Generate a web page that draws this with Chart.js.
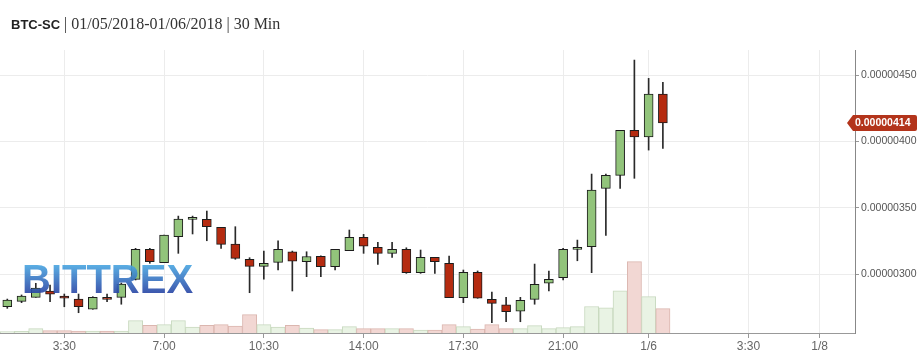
<!DOCTYPE html>
<html>
<head>
<meta charset="utf-8">
<script src="https://cdn.jsdelivr.net/npm/chart.js@4"></script>
<style>
  html, body { margin: 0; padding: 0; background: #fff; }
  #wrap { position: relative; width: 920px; height: 352px; }
  #title {
    position: absolute; left: 11px; top: 15px;
    font: 16px "Liberation Serif", "DejaVu Serif", serif; color: #333; white-space: nowrap;
  }
  #title b { font: bold 13px "Liberation Sans", Arial, sans-serif; color: #222; }
</style>
</head>
<body>
<div id="wrap">
  <canvas id="chart" width="920" height="352"></canvas>
  <div id="title"><b>BTC-SC</b> | 01/05/2018-01/06/2018 | 30 Min</div>
</div>
<script>
// ── Data (prices in units of 1e-8 BTC, time in hours from 01/05 00:00) ──
const times = [1.5, 2, 2.5, 3, 3.5, 4, 4.5, 5, 5.5, 6, 6.5, 7, 7.5, 8, 8.5, 9, 9.5, 10,
  10.5, 11, 11.5, 12, 12.5, 13, 13.5, 14, 14.5, 15, 15.5, 16, 16.5, 17, 17.5, 18, 18.5,
  19, 19.5, 20, 20.5, 21, 21.5, 22, 22.5, 23, 23.5, 24, 24.5];
const opens  = [275.3, 279.4, 282.4, 287.2, 283.4, 281.1, 273.4, 282.4, 282.4, 296.0, 318.6, 308.5,
  328.1, 341.2, 341.2, 335.2, 322.6, 311.1, 305.8, 308.8, 316.8, 309.4, 313.3, 305.5, 317.6, 327.7,
  320.1, 315.6, 318.6, 301.0, 312.6, 308.1, 282.1, 301.3, 280.9, 276.8, 271.9, 280.9, 293.0, 297.2,
  318.6, 320.6, 364.6, 374.4, 408.4, 403.5, 435.7];
const highs  = [281.1, 284.2, 293.0, 291.7, 284.9, 284.9, 282.9, 284.9, 293.2, 319.4, 319.4, 329.4,
  343.7, 343.7, 347.5, 335.2, 335.7, 312.3, 317.3, 325.1, 317.3, 316.8, 313.8, 318.6, 333.2, 329.9,
  323.9, 323.9, 319.8, 318.1, 312.6, 313.6, 303.0, 302.3, 286.4, 282.4, 282.4, 307.5, 302.3, 319.4,
  325.6, 375.4, 375.4, 408.4, 461.4, 447.6, 444.6];
const lows   = [274.1, 278.4, 282.4, 279.1, 275.3, 270.8, 273.4, 279.1, 277.2, 295.5, 308.1, 308.5,
  315.6, 330.2, 325.1, 319.4, 311.1, 285.9, 296.2, 303.0, 287.2, 298.0, 298.0, 303.0, 317.6, 315.6,
  307.3, 312.6, 300.5, 300.5, 300.5, 282.1, 278.4, 281.7, 263.3, 264.0, 264.0, 277.2, 287.2, 295.5,
  310.0, 301.0, 329.2, 364.6, 372.2, 393.5, 394.8];
const closes = [280.4, 283.4, 289.4, 284.7, 281.7, 275.3, 282.4, 280.9, 292.5, 318.6, 309.3, 329.4,
  341.5, 341.4, 335.7, 322.4, 311.8, 305.8, 308.1, 318.6, 309.6, 313.2, 305.5, 318.6, 327.7, 321.1,
  315.6, 318.6, 301.0, 312.6, 309.3, 282.1, 301.3, 281.7, 277.9, 271.6, 280.2, 292.2, 296.0, 318.6,
  320.1, 363.3, 374.4, 408.4, 403.5, 435.7, 414.0];
const volumes = [1.5, 1.7, 4.3, 2.3, 2.3, 2, 2, 2, 2, 12.3, 7.7, 8.3, 12.3, 6, 7.7, 8.3, 7, 18.3,
  8.3, 6, 7.7, 5, 3.3, 3.3, 6.3, 4.3, 4.3, 4.3, 4.3, 3, 3, 8.3, 6.3, 4, 8.3, 4.3, 4.3, 7.3, 4.3,
  5.3, 6.3, 26.5, 25.2, 42.2, 71.3, 36.3, 24.3];

const xTickHours  = [3.5, 7, 10.5, 14, 17.5, 21, 24, 27.5, 30];
const xTickLabels = ['3:30', '7:00', '10:30', '14:00', '17:30', '21:00', '1/6', '3:30', '1/8'];
const yTickValues = [300, 350, 400, 450];

// ── Colours ──
const UP = '#92c47b', DOWN = '#b52b10';
const VOL_UP = '#e9f3e4', VOL_UP_B = '#c8d9bf';
const VOL_DN = '#f2d7d3', VOL_DN_B = '#dbb6af';

const isUp = times.map((_, i) => closes[i] >= opens[i]);

// ── Plugins ──
const watermark = {
  id: 'watermark',
  afterDatasetsDraw(chart) {
    const ctx = chart.ctx;
    ctx.save();
    const g = ctx.createLinearGradient(0, 264, 0, 293);
    g.addColorStop(0, '#4aa9e3');
    g.addColorStop(1, '#2845a5');
    ctx.globalAlpha = 0.9;
    ctx.fillStyle = g;
    ctx.font = 'bold 40px "Liberation Sans", Arial, sans-serif';
    ctx.textBaseline = 'alphabetic';
    ctx.fillText('BITTREX', 22, 292.5);
    ctx.restore();
  }
};

const priceTag = {
  id: 'priceTag',
  afterDraw(chart) {
    const ctx = chart.ctx;
    const last = closes[closes.length - 1];
    const y = Math.round(chart.scales.y.getPixelForValue(last));
    const x0 = chart.chartArea.right - 8, x1 = x0 + 6, x2 = 917, h = 8;
    ctx.save();
    ctx.fillStyle = '#b3341b';
    ctx.beginPath();
    ctx.moveTo(x0, y);
    ctx.lineTo(x1, y - h);
    ctx.lineTo(x2 - 2, y - h);
    ctx.quadraticCurveTo(x2, y - h, x2, y - h + 2);
    ctx.lineTo(x2, y + h - 2);
    ctx.quadraticCurveTo(x2, y + h, x2 - 2, y + h);
    ctx.lineTo(x1, y + h);
    ctx.closePath();
    ctx.fill();
    ctx.fillStyle = '#fff';
    ctx.font = 'bold 10.5px "Liberation Sans", Arial, sans-serif';
    ctx.textBaseline = 'middle';
    ctx.fillText((last / 1e8).toFixed(8), x1 + 2, y + 0.5);
    ctx.restore();
  }
};

// ── Chart ──
new Chart(document.getElementById('chart'), {
  type: 'bar',
  data: {
    datasets: [
      {
        label: 'body',
        order: 0,
        grouped: false,
        data: times.map((t, i) => ({ x: t, y: [Math.min(opens[i], closes[i]), Math.max(opens[i], closes[i])] })),
        backgroundColor: isUp.map(u => u ? UP : DOWN),
        borderColor: '#1c1c1c',
        borderWidth: 1,
        borderSkipped: false,
        barThickness: 9,
        minBarLength: 2
      },
      {
        label: 'wick',
        order: 1,
        grouped: false,
        data: times.map((t, i) => ({ x: t, y: [lows[i], highs[i]] })),
        backgroundColor: '#2a2a2a',
        barThickness: 1
      },
      {
        label: 'volume',
        order: 2,
        grouped: false,
        yAxisID: 'yVol',
        data: times.map((t, i) => ({ x: t, y: volumes[i] })),
        backgroundColor: isUp.map(u => u ? VOL_UP : VOL_DN),
        borderColor: isUp.map(u => u ? VOL_UP_B : VOL_DN_B),
        borderWidth: 1,
        barPercentage: 1,
        categoryPercentage: 1
      }
    ]
  },
  options: {
    responsive: false,
    animation: false,
    devicePixelRatio: 1,
    layout: { padding: { top: 50, left: 0, right: 0, bottom: 0 } },
    plugins: { legend: { display: false }, tooltip: { enabled: false } },
    scales: {
      x: {
        type: 'linear',
        min: 1.244,
        max: 31.24,
        offset: false,
        afterBuildTicks: axis => { axis.ticks = xTickHours.map(v => ({ value: v })); },
        afterFit: axis => { axis.height = 19; },
        ticks: {
          autoSkip: false,
          maxRotation: 0,
          padding: 1,
          color: '#666',
          font: { family: '"Liberation Sans", Arial, sans-serif', size: 12 },
          callback: (v, i) => xTickLabels[i]
        },
        grid: { offset: false, color: '#ececec', tickColor: '#999', tickLength: 5 },
        border: { color: '#999' }
      },
      y: {
        position: 'right',
        min: 255.5,
        max: 469,
        afterBuildTicks: axis => { axis.ticks = yTickValues.map(v => ({ value: v })); },
        afterFit: axis => { axis.width = 65; },
        ticks: {
          padding: 2,
          color: '#555',
          font: { family: '"Liberation Sans", Arial, sans-serif', size: 10.5 },
          callback: v => (v / 1e8).toFixed(8)
        },
        grid: { color: '#ececec', tickColor: '#999', tickLength: 4 },
        border: { color: '#888' }
      },
      yVol: {
        display: false,
        min: 0,
        max: 283
      }
    }
  },
  plugins: [watermark, priceTag]
});
</script>
</body>
</html>
